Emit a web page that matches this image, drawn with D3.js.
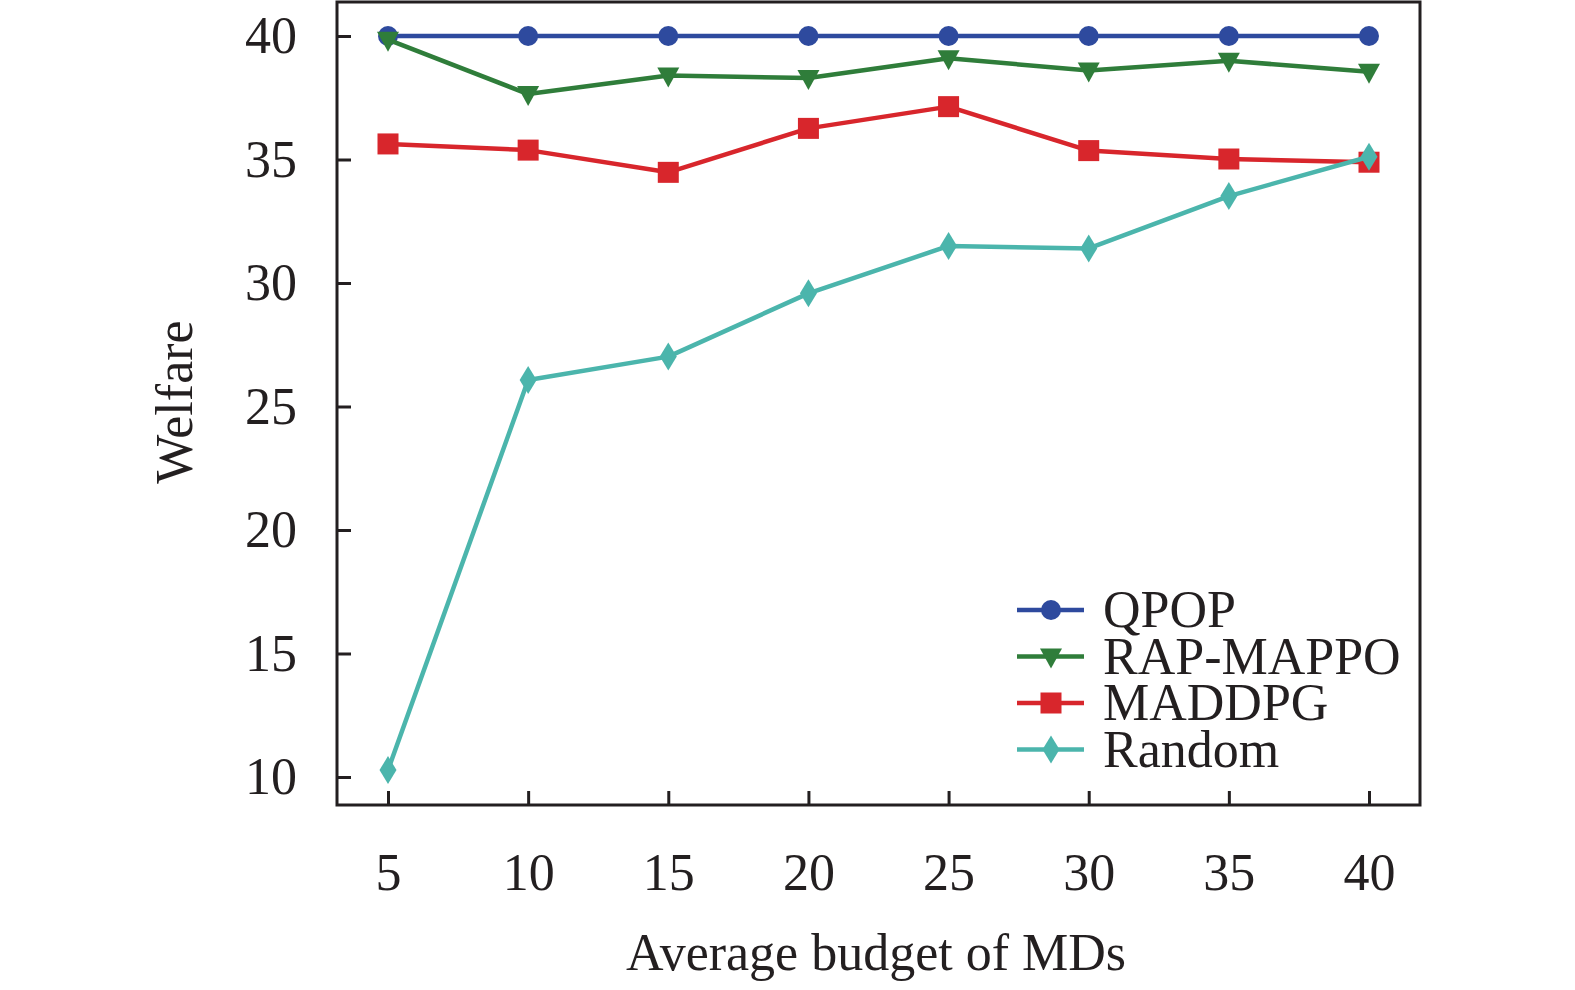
<!DOCTYPE html>
<html>
<head>
<meta charset="utf-8">
<script src="https://cdn.jsdelivr.net/npm/d3@7"></script>
<style>
  body { margin: 0; background: #fff; }
  text { font-family: "Liberation Serif", "Times New Roman", serif; fill: #231f20; }
</style>
</head>
<body>
<div class="chart"></div>
<script>
const budgets = [5, 10, 15, 20, 25, 30, 35, 40];
const qpop = [40, 40, 40, 40, 40, 40, 40, 40];
const rapMappo = [39.85, 37.65, 38.4, 38.3, 39.1, 38.6, 39.0, 38.55];
const maddpg = [35.63, 35.38, 34.48, 36.26, 37.14, 35.36, 35.02, 34.89];
const random = [10.28, 26.07, 27.02, 29.58, 31.5, 31.4, 33.52, 35.11];
const yTicks = [10, 15, 20, 25, 30, 35, 40];

const series = [
  { name: 'QPOP', values: qpop, color: '#2e4a9e', symbol: 'circle' },
  { name: 'RAP-MAPPO', values: rapMappo, color: '#2f7d3a', symbol: 'triangle' },
  { name: 'MADDPG', values: maddpg, color: '#d8262c', symbol: 'square' },
  { name: 'Random', values: random, color: '#4bb5ac', symbol: 'diamond' }
];

const w = 1575;
const h = 990;
const box = { left: 337, right: 1420, top: 2, bottom: 805 };
const fontSize = 52;

const xScale = d3.scaleLinear().domain([5, 40]).range([388, 1369]);
const yScale = d3.scaleLinear().domain([10, 40]).range([777, 36]);

const svg = d3.select('.chart')
  .append('svg')
  .attr('width', w)
  .attr('height', h);

// markers
function drawMarker(g, type, color) {
  if (type === 'circle') {
    g.append('circle').attr('r', 10).attr('fill', color);
  } else if (type === 'square') {
    g.append('rect').attr('x', -10.5).attr('y', -10.5).attr('width', 21).attr('height', 21).attr('fill', color);
  } else if (type === 'triangle') {
    g.append('path').attr('d', 'M-11,-8 L11,-8 L0,12 Z').attr('fill', color);
  } else {
    g.append('path').attr('d', 'M0,-14 L8.5,0 L0,14 L-8.5,0 Z').attr('fill', color);
  }
}

const line = d3.line()
  .x((d, i) => xScale(budgets[i]))
  .y((d) => yScale(d));

series.forEach((s) => {
  svg.append('path')
    .attr('d', line(s.values))
    .attr('fill', 'none')
    .attr('stroke', s.color)
    .attr('stroke-width', 4.5)
    .attr('stroke-linejoin', 'round');
  s.values.forEach((v, i) => {
    const g = svg.append('g')
      .attr('transform', `translate(${xScale(budgets[i])},${yScale(v)})`);
    drawMarker(g, s.symbol, s.color);
  });
});

// axes (ticks point inward)
function styleAxis(g) {
  g.select('.domain').remove();
  g.selectAll('line').attr('stroke', '#231f20').attr('stroke-width', 3);
  g.selectAll('text').attr('font-size', fontSize).attr('fill', '#231f20')
    .attr('font-family', '"Liberation Serif", serif');
}

svg.append('g')
  .attr('class', 'x-axis')
  .attr('transform', `translate(0, ${box.bottom})`)
  .call(d3.axisBottom(xScale).tickValues(budgets).tickSize(-14).tickPadding(48))
  .call(styleAxis);

svg.append('g')
  .attr('class', 'y-axis')
  .attr('transform', `translate(${box.left}, 0)`)
  .call(d3.axisLeft(yScale).tickValues(yTicks).tickSize(-14).tickPadding(40))
  .call(styleAxis);

svg.append('rect')
  .attr('x', box.left)
  .attr('y', box.top)
  .attr('width', box.right - box.left)
  .attr('height', box.bottom - box.top)
  .attr('fill', 'none')
  .attr('stroke', '#231f20')
  .attr('stroke-width', 3);

// axis titles
svg.append('text')
  .attr('x', 876)
  .attr('y', 970)
  .attr('text-anchor', 'middle')
  .attr('font-size', fontSize)
  .text('Average budget of MDs');

svg.append('text')
  .attr('transform', 'translate(192, 402) rotate(-90)')
  .attr('text-anchor', 'middle')
  .attr('font-size', fontSize)
  .text('Welfare');

// legend
const rowGap = 46.5;
const legend = svg.append('g').attr('transform', 'translate(1017, 610)');
series.forEach((s, i) => {
  const row = legend.append('g').attr('transform', `translate(0, ${i * rowGap})`);
  row.append('line')
    .attr('x1', 0).attr('x2', 67)
    .attr('stroke', s.color).attr('stroke-width', 4.5);
  drawMarker(row.append('g').attr('transform', 'translate(34,0)'), s.symbol, s.color);
});
const legendText = legend.append('text')
  .attr('font-size', fontSize);
series.forEach((s, i) => {
  legendText.append('tspan')
    .attr('x', 86)
    .attr('y', 17 + i * rowGap)
    .text(s.name);
});
</script>
</body>
</html>
